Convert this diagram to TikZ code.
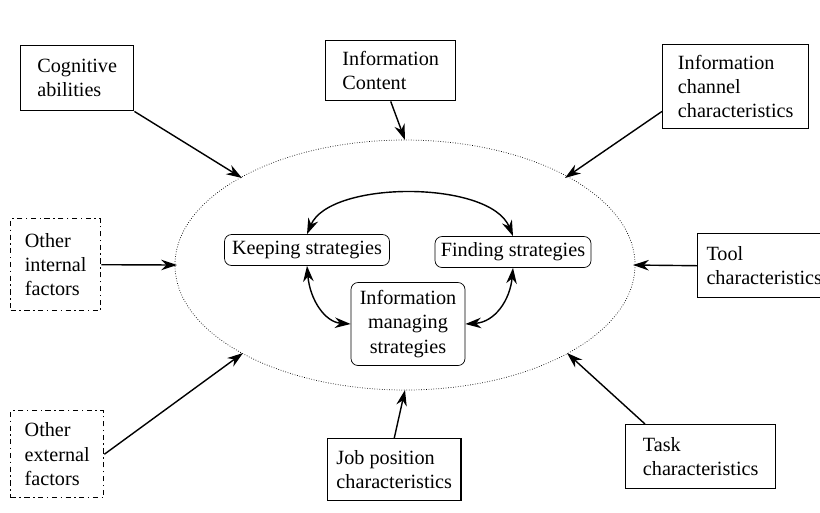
\documentclass[tikz,border=0pt]{standalone}
\usepackage{fontspec}
\setmainfont{Liberation Serif}
\usetikzlibrary{arrows.meta}
\tikzset{
  factor/.style={draw, thick, align=left, anchor=north west, inner sep=5pt,
    font=\fontsize{11.5}{13.8}\selectfont},
  other/.style={factor, dash dot},
  strat/.style={draw, rounded corners=4pt, align=center, font=\fontsize{11.5}{13.8}\selectfont},
  arr/.style={-{Stealth[length=9pt,width=6pt]}, thick},
  both/.style={{Stealth[length=9pt,width=6pt]}-{Stealth[length=9pt,width=6pt]}, thick}
}
\begin{document}
\begin{tikzpicture}[x=0.02cm,y=-0.02cm]
\useasboundingbox (0,0) rectangle (820,512);
\clip (0,0) rectangle (820,512);
\fill[white] (0,0) rectangle (820,512);

\draw[densely dotted] (405,265) ellipse [x radius=230, y radius=125];

% factors
\node[factor, minimum width=113*0.02cm, minimum height=65*0.02cm] (cog) at (20,45) {Cognitive\\abilities};
\node[factor, minimum width=130*0.02cm, minimum height=60*0.02cm] (cont) at (325,40) {Information\\Content};
\node[factor, minimum width=146*0.02cm, minimum height=84*0.02cm] (chan) at (662,44) {Information\\channel\\characteristics};
\node[other, minimum width=90*0.02cm, minimum height=92*0.02cm] (int) at (10,218) {Other\\internal\\factors};
\node[factor, minimum width=130*0.02cm, minimum height=64*0.02cm] (tool) at (697,233) {Tool\\characteristics};
\node[other, minimum width=93*0.02cm, minimum height=87*0.02cm] (ext) at (10,410) {Other\\external\\factors};
\node[factor, minimum width=125*0.02cm, minimum height=62*0.02cm] (job) at (327,438) {Job position\\characteristics};
\node[factor, minimum width=150*0.02cm, minimum height=64*0.02cm] (task) at (625,424) {Task\\characteristics};

% strategies
\node[strat, minimum width=165*0.02cm, minimum height=31*0.02cm] (keep) at (307,250) {Keeping strategies};
\node[strat, minimum width=156*0.02cm, minimum height=31*0.02cm] (find) at (513,252) {Finding strategies};
\node[strat, minimum width=114*0.02cm, minimum height=83*0.02cm] (man) at (408,324) {Information\\managing\\strategies};

% points on the ellipse
\coordinate (eCog) at (242,178);
\coordinate (eCont) at (405,140);
\coordinate (eChan) at (565,178);
\coordinate (eInt) at (177,265);
\coordinate (eTool) at (633,265);
\coordinate (eExt) at (243,353);
\coordinate (eJob) at (405,390);
\coordinate (eTask) at (567,353);

\draw[arr] (cog.south east) -- (eCog);
\draw[arr] (cont.south) -- (eCont);
\draw[arr] (chan.south west) ++(0,-18) -- (eChan);
\draw[arr] (int.east) -- (eInt);
\draw[arr] (tool.west) -- (eTool);
\draw[arr] (ext.east) -- (eExt);
\draw[arr] (job.north) -- (eJob);
\draw[arr] (task.north west) ++(20,0) -- (eTask);

\draw[both] (keep.north) .. controls (330,180) and (490,180) .. (find.north);
\draw[both] (keep.south) .. controls (310,300) and (325,322) .. (man.west);
\draw[both] (find.south) .. controls (510,300) and (495,322) .. (man.east);
\end{tikzpicture}
\end{document}
